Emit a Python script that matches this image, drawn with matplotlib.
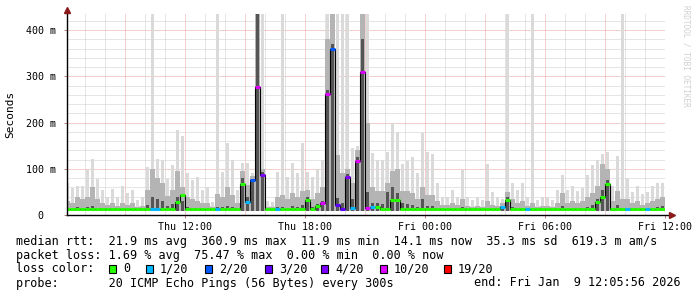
import numpy as np
import matplotlib
matplotlib.use("Agg")
import matplotlib.pyplot as plt
from matplotlib.patches import Rectangle

plt.rcParams['font.family'] = ['DejaVu Sans Mono']

# 15 minute bins from Thu 06:00 to Fri 12:00, values in ms
median = [13, 12, 13, 12, 13, 13, 13, 12, 12, 13,
          13, 12, 12, 13, 13, 13, 13, 14, 14, 13,
          13, 14, 28, 43, 13, 13, 13, 12, 12, 12,
          14, 13, 13, 13, 13, 68, 28, 76, 277, 86,
          13, 13, 14, 13, 13, 13, 13, 13, 32, 14,
          20, 26, 262, 359, 22, 14, 82, 15, 117, 309,
          15, 18, 18, 14, 14, 32, 32, 14, 13, 13,
          13, 14, 13, 13, 13, 12, 12, 12, 12, 13,
          12, 12, 12, 12, 12, 12, 12, 18, 32, 13,
          13, 13, 12, 12, 12, 12, 12, 12, 12, 13,
          14, 13, 13, 13, 13, 13, 28, 40, 67, 13,
          13, 13, 12, 12, 12, 12, 12, 12, 13, 13]

# index into loss_labels
loss = [0, 0, 0, 0, 0, 0, 0, 0, 0, 0,
        0, 0, 0, 0, 0, 0, 0, 1, 1, 0,
        0, 0, 0, 0, 0, 0, 0, 0, 0, 0,
        1, 0, 0, 0, 0, 0, 1, 2, 5, 4,
        0, 0, 1, 0, 0, 0, 0, 0, 0, 0,
        0, 5, 5, 2, 3, 3, 4, 1, 5, 5,
        5, 1, 0, 0, 0, 0, 0, 0, 0, 0,
        0, 0, 0, 0, 0, 0, 0, 0, 0, 0,
        0, 0, 0, 0, 0, 0, 0, 1, 0, 0,
        0, 0, 1, 0, 0, 0, 0, 0, 0, 0,
        0, 0, 0, 0, 0, 0, 0, 0, 0, 0,
        0, 0, 1, 0, 0, 0, 1, 0, 0, 0]

smoke_light = [70, 58, 63, 62, 98, 121, 78, 53, 40, 56,
               39, 63, 48, 53, 32, 40, 104, 434, 121, 119,
               78, 108, 184, 170, 90, 76, 83, 55, 61, 28,
               434, 94, 155, 119, 54, 112, 112, 90, 434, 434,
               30, 28, 92, 434, 83, 112, 90, 155, 92, 83,
               99, 120, 434, 434, 434, 434, 434, 145, 150, 434,
               434, 134, 120, 120, 137, 200, 180, 110, 117, 125,
               90, 177, 137, 132, 69, 40, 40, 55, 40, 97,
               40, 32, 40, 32, 110, 50, 40, 35, 434, 69,
               55, 69, 40, 434, 32, 40, 40, 32, 55, 87,
               55, 62, 52, 58, 87, 108, 120, 132, 136, 62,
               128, 434, 80, 50, 62, 45, 50, 62, 69, 69]

smoke_mid = [30, 26, 38, 34, 40, 60, 35, 26, 22, 26,
             20, 26, 22, 26, 18, 20, 55, 100, 80, 70,
             42, 55, 95, 60, 40, 34, 30, 26, 26, 17,
             45, 40, 60, 44, 26, 95, 65, 85, 434, 100,
             18, 17, 40, 44, 34, 48, 40, 52, 55, 34,
             48, 60, 380, 434, 130, 90, 100, 70, 140, 434,
             200, 60, 52, 52, 70, 95, 100, 52, 52, 48,
             34, 60, 44, 44, 30, 22, 22, 26, 22, 34,
             20, 18, 20, 18, 30, 22, 20, 26, 50, 35,
             26, 30, 20, 26, 18, 20, 20, 18, 26, 48,
             26, 30, 26, 30, 40, 48, 62, 110, 100, 30,
             52, 35, 35, 25, 30, 22, 26, 30, 35, 40]

smoke_dark = [16, 15, 17, 16, 17, 20, 16, 15, 14, 15,
              14, 15, 14, 15, 14, 14, 22, 38, 34, 30,
              20, 24, 40, 30, 17, 16, 16, 15, 15, 13,
              17, 17, 20, 17, 15, 80, 38, 78, 434, 92,
              14, 13, 17, 17, 16, 19, 17, 22, 38, 17,
              24, 30, 270, 370, 36, 26, 88, 35, 125, 380,
              50, 26, 26, 24, 50, 60, 48, 26, 24, 22,
              17, 34, 19, 19, 16, 14, 14, 15, 14, 17,
              14, 13, 14, 13, 16, 14, 14, 20, 38, 18,
              16, 16, 14, 14, 13, 14, 14, 13, 15, 19,
              16, 16, 15, 16, 18, 22, 35, 55, 75, 16,
              22, 16, 16, 14, 15, 14, 15, 16, 18, 19]
smoke_floor = 9

loss_labels = ["0", "1/20", "2/20", "3/20", "4/20", "10/20", "19/20"]
loss_colors = ["#26ff00", "#00b8ff", "#0059ff", "#5e00ff", "#7e00ff", "#dd00ff", "#ff0000"]

tick_hours = [6, 12, 18, 24, 30]
tick_labels = ["Thu 12:00", "Thu 18:00", "Fri 00:00", "Fri 06:00", "Fri 12:00"]
ytick_vals = [0, 100, 200, 300, 400]
ytick_labels = ["  0  ", "100 m", "200 m", "300 m", "400 m"]

W, H = 697, 297
fig = plt.figure(figsize=(W / 100, H / 100), dpi=100)
ax = fig.add_axes([67 / W, (H - 215) / H, (665 - 67) / W, (215 - 14) / H])

step = 0.25
n = len(median)
edges = np.arange(n + 1) * step
def ext(v):
    return np.append(v, v[-1])

# grid
for h in range(1, 31):
    major = h % 3 == 0
    ax.axvline(h, color="#e8a0a0" if major else "#cccccc", lw=0.72,
               ls=(0, (1, 1)), zorder=0)
for v in range(20, 440, 20):
    major = v % 100 == 0
    ax.axhline(v, color="#e8a0a0" if major else "#cccccc", lw=0.72,
               ls=(0, (1, 1)), zorder=0)

# smoke: outer pings as thin columns, inner bands as filled steps
ax.bar(edges[:-1] + 0.05, np.array(smoke_light) - smoke_floor, width=0.15, bottom=smoke_floor,
       align="edge", color="#dadada", lw=0, zorder=1)
ax.fill_between(edges, smoke_floor, ext(smoke_mid), step="post", color="#b4b4b4", lw=0, zorder=2)
ax.bar(edges[:-1] + 0.04, np.array(smoke_dark) - smoke_floor, width=0.17, bottom=smoke_floor,
       align="edge", color="#555555", lw=0, zorder=3)

# median
ax.step(edges, ext(median), where="post", color="black", lw=0.8, zorder=4)
ax.hlines(median, edges[:-1], edges[1:], colors=[loss_colors[i] for i in loss], lw=2.2, zorder=5)

ax.set_xlim(0.1, 30)
ax.set_ylim(0, 434.6)
ax.set_xticks(tick_hours)
ax.set_xticklabels(tick_labels, fontsize=7.2)
ax.set_yticks(ytick_vals)
ax.set_yticklabels(ytick_labels, fontsize=7.2)
ax.tick_params(axis="both", length=2, width=0.7, color="#c08080", pad=3)
ax.tick_params(axis="y", pad=6)
for s in ["top", "right", "left", "bottom"]:
    ax.spines[s].set_visible(False)
ax.patch.set_alpha(0)

# axis lines with arrows
ax.plot([0, 0], [0, 1.02], transform=ax.transAxes, color="black", lw=1, clip_on=False, zorder=6)
ax.plot([0, 1.012], [0, 0], transform=ax.transAxes, color="black", lw=1, clip_on=False, zorder=6)
ax.plot(0, 1.02, marker="^", ms=4, color="#8b1a1a", transform=ax.transAxes, clip_on=False, zorder=7)
ax.plot(1.012, 0, marker=">", ms=4, color="#8b1a1a", transform=ax.transAxes, clip_on=False, zorder=7)

fig.text(10 / W, 1 - 114 / H, "Seconds", rotation=90, ha="center", va="center", fontsize=8)
fig.text(686 / W, 1 - 5 / H, "RRDTOOL / TOBI OETIKER", rotation=270, ha="center", va="top",
         fontsize=5.6, color="#d0d0d0")

# legend
fs = 8.5
def line(y, s, x=16, ha="left"):
    fig.text(x / W, 1 - y / H, s, fontsize=fs, va="center", ha=ha)

line(241, "median rtt:  21.9 ms avg  360.9 ms max  11.9 ms min  14.1 ms now  35.3 ms sd  619.3 m am/s")
line(255, "packet loss: 1.69 % avg  75.47 % max  0.00 % min  0.00 % now")
line(269, "loss color:")
line(283, "probe:       20 ICMP Echo Pings (56 Bytes) every 300s")
line(283, "end: Fri Jan  9 12:05:56 2026", x=681, ha="right")

box_x = [109, 146, 205, 265, 321, 380, 444]
for bx, lab, col in zip(box_x, loss_labels, loss_colors):
    fig.patches.append(Rectangle((bx / W, 1 - 273 / H), 7 / W, 8 / H, transform=fig.transFigure,
                                 facecolor=col, edgecolor="black", lw=0.8))
    fig.text((bx + 14) / W, 1 - 269 / H, lab, fontsize=fs, va="center")

fig.savefig("out.png", dpi=100)
